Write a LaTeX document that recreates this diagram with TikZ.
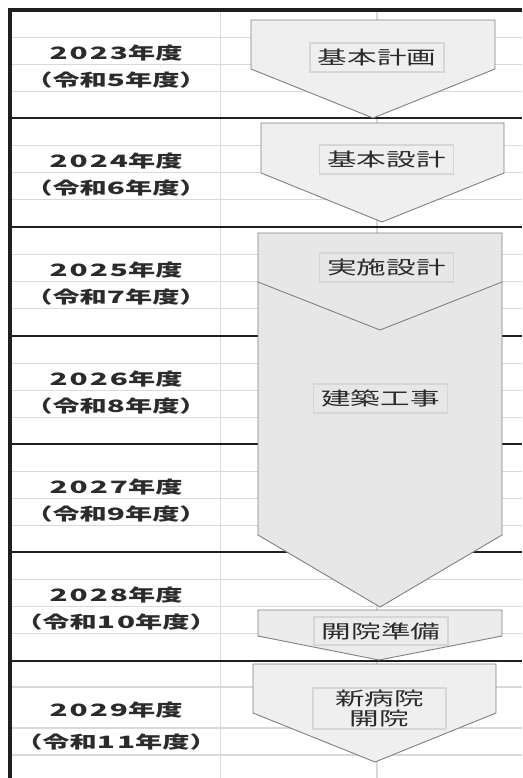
\documentclass[tikz,border=0pt]{standalone}
\usepackage{fontspec}
\newfontfamily\jp{Noto Sans CJK JP}[FakeStretch=1.6]
\newfontfamily\jpd{Noto Sans CJK JP}[FakeStretch=1.75, LetterSpace=12]
\definecolor{gridgrey}{HTML}{D9D9D9}
\definecolor{edgegrey}{HTML}{808080}
\definecolor{fillA}{HTML}{EFEFEF}
\definecolor{fillB}{HTML}{E7E7E7}
\definecolor{fillC}{HTML}{ECECEC}
\definecolor{txt}{HTML}{2B2B2B}
\definecolor{boxedge}{HTML}{D6D6D6}
\tikzset{
  subline/.style={draw=gridgrey, line width=1.1pt},
  yearline/.style={draw=black!88, line width=1.6pt},
  border/.style={draw=black!88, line width=3.4pt},
  chev/.style={draw=edgegrey, line width=0.9pt, line join=miter},
  yeartext/.style={font=\jp\bfseries\fontsize{17}{20}\selectfont, text=txt, inner sep=0pt, anchor=center},
  lbl/.style={draw=boxedge, line width=1.2pt, minimum height=29pt, minimum width=134pt, inner sep=0pt,
    font=\jp\fontsize{18.5}{20}\selectfont, text=txt, align=center},
}
\newcommand{\dg}[1]{{\jpd\bfseries #1}}
\begin{document}
\begin{tikzpicture}[x=1pt,y=-1pt]
\useasboundingbox (0,0) rectangle (522,778);
\fill[white] (0,0) rectangle (522,778);
% sub rows
\foreach \t in {10,118,227,336,444,552}{
  \draw[subline] (10,\t+27.5) -- (522,\t+27.5);
  \draw[subline] (10,\t+54.5) -- (522,\t+54.5);
  \draw[subline] (10,\t+81.5) -- (522,\t+81.5);
}
\draw[subline] (10,687) -- (522,687);
\draw[subline] (10,728) -- (522,728);
\draw[subline] (10,755) -- (522,755);
% vertical grid
\draw[subline] (220.5,10) -- (220.5,778);
\draw[subline] (377,10) -- (377,778);
% year lines
\foreach \t in {118,227,336,444,552,661}{
  \draw[yearline] (10,\t) -- (522,\t);
}
% borders
\draw[border] (10,778) -- (10,10) -- (522,10);
% year texts
\node[yeartext] (a1) at (116,53) {\dg{2023}年度};
\node[yeartext] (a2) at (116,80) {（令和\dg{5}年度）};
\node[yeartext] (b1) at (116,161) {\dg{2024}年度};
\node[yeartext] (b2) at (116,188) {（令和\dg{6}年度）};
\node[yeartext] (c1) at (116,270) {\dg{2025}年度};
\node[yeartext] (c2) at (116,297) {（令和\dg{7}年度）};
\node[yeartext] (d1) at (116,379) {\dg{2026}年度};
\node[yeartext] (d2) at (116,406) {（令和\dg{8}年度）};
\node[yeartext] (e1) at (116,487) {\dg{2027}年度};
\node[yeartext] (e2) at (116,514) {（令和\dg{9}年度）};
\node[yeartext] (f1) at (116,595) {\dg{2028}年度};
\node[yeartext] (f2) at (116,622) {（令和\dg{10}年度）};
\node[yeartext] (g1) at (116,710) {\dg{2029}年度};
\node[yeartext] (g2) at (116,742) {（令和\dg{11}年度）};
% chevrons
\draw[chev, fill=fillA] (251,20) -- (495,20) -- (495,69) -- (373,118) -- (251,69) -- cycle;
\draw[chev, fill=fillA] (261,123) -- (504,123) -- (504,173) -- (382,222) -- (261,173) -- cycle;
\draw[chev, fill=fillB] (258,233) -- (502,233) -- (502,535) -- (380,607) -- (258,535) -- cycle;
\draw[chev] (258,282) -- (380,330) -- (502,282);
\draw[chev, fill=fillC] (258,610) -- (502,610) -- (502,636) -- (379,660) -- (258,636) -- cycle;
\draw[chev, fill=fillA] (253,664) -- (496,664) -- (496,713) -- (375,762) -- (253,713) -- cycle;
% labels
\node[lbl, fill=fillA] (p1) at (377,57.5) {基本計画};
\node[lbl, fill=fillA] (p2) at (386.5,159.5) {基本設計};
\node[lbl, fill=fillB] (p3) at (386.5,267.5) {実施設計};
\node[lbl, fill=fillB] (p4) at (380.5,398.5) {建築工事};
\node[lbl, fill=fillC, minimum height=28pt] (p5) at (381,631) {開院準備};
\node[lbl, fill=fillA, minimum height=41pt, minimum width=133pt] (p6) at (379.5,708.5) {新病院\\開院};
\end{tikzpicture}
\end{document}
